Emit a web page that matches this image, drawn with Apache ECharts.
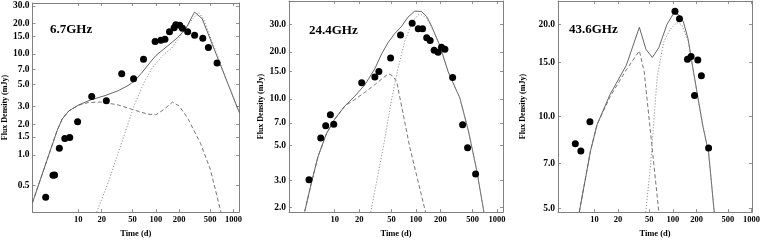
<!DOCTYPE html>
<html><head><meta charset="utf-8">
<script src="https://cdn.jsdelivr.net/npm/echarts@6/dist/echarts.min.js"></script>
<style>html,body{margin:0;padding:0;background:#fff}#c{width:763px;height:243px}</style>
</head><body><div id="c"></div>
<script>
// ---------- tick labels ----------
const xTickValues = [10, 20, 50, 100, 200, 500, 1000];
const yTicks67 = [0.5, 1.0, 1.5, 2.0, 3.0, 5.0, 7.0, 10.0, 15.0, 20.0, 30.0];
const yTicks244 = [2.0, 3.0, 5.0, 7.0, 10.0, 15.0, 20.0, 30.0];
const yTicks436 = [5.0, 7.0, 10.0, 15.0, 20.0];
const panelNames = ['6.7GHz', '24.4GHz', '43.6GHz'];

// ---------- 6.7 GHz ----------
const obs67Time = [3.8, 4.72, 4.94, 5.7, 6.7, 7.76, 9.8, 14.9, 23, 36.3, 51.6, 69.3, 97.8, 116, 131, 150, 172, 181, 203, 220, 257, 316, 403, 476, 615];
const obs67Flux = [0.38, 0.627, 0.63, 1.16, 1.45, 1.48, 2.13, 3.78, 3.43, 6.36, 5.69, 8.88, 13.3, 13.7, 14.0, 16.6, 18.2, 19.5, 19.2, 18.0, 16.6, 15.3, 14.3, 11.6, 8.13];
const total67Time = [2.57, 5.35, 6.2, 7.54, 10.1, 14.9, 22.1, 32.7, 43.8, 53.2, 64.7, 78.7, 100, 142, 190, 240, 315, 395, 1190];
const total67Flux = [0.336, 1.75, 2.26, 2.72, 3.12, 3.53, 3.86, 4.32, 4.86, 5.40, 6.40, 7.71, 9.64, 12.0, 14.5, 17.5, 26.0, 22.4, 2.62];
const comp1_67Time = [2.57, 5.35, 6.2, 7.54, 10.1, 13.5, 20, 32.7, 53.2, 78.7, 100, 128, 164, 199, 254, 376, 504, 690];
const comp1_67Flux = [0.336, 1.75, 2.26, 2.72, 3.1, 3.3, 3.33, 3.12, 2.77, 2.53, 2.49, 2.83, 3.33, 3.05, 2.35, 1.30, 0.716, 0.27];
const comp2_67Time = [17.3, 24.3, 36, 53.2, 71.4, 90, 128, 157, 200, 281, 358, 415, 1190];
const comp2_67Flux = [0.27, 0.53, 1.30, 3.16, 5.32, 7.3, 10.0, 11.2, 14.5, 21.0, 25.9, 21.8, 2.62];

// ---------- 24.4 GHz ----------
const obs244Time = [4.82, 6.72, 7.74, 8.84, 9.72, 21.5, 31.2, 35.0, 48.8, 64.7, 90, 107, 121, 136, 150, 168, 188, 207, 228, 284, 377, 434, 545];
const obs244Flux = [3.02, 5.6, 6.7, 7.9, 6.85, 12.7, 13.8, 15.0, 18.3, 25.7, 30.6, 28.2, 28.2, 24.7, 23.7, 20.5, 19.9, 21.4, 20.8, 13.7, 6.8, 4.85, 3.28];
const total244Time = [4.27, 5.15, 6.22, 7.89, 10, 13.3, 17.7, 23.5, 31, 38, 45.5, 55, 66, 80, 97, 117, 136, 156, 198, 250, 349, 443, 561, 690];
const total244Flux = [1.89, 2.88, 4.25, 5.96, 7.4, 8.98, 10.4, 12.3, 15.5, 19.5, 23.0, 26.3, 29.0, 33.5, 36.6, 36.4, 33.8, 29.3, 21.9, 14.9, 10.1, 6.25, 3.5, 1.87];
const comp1_244Time = [4.27, 5.15, 6.22, 7.89, 10, 13.3, 17.7, 23.5, 31, 40, 46, 52, 58, 84, 131.5];
const comp1_244Flux = [1.89, 2.88, 4.25, 5.96, 7.4, 8.98, 9.9, 11.0, 12.3, 13.7, 14.5, 14.0, 12.9, 4.9, 1.87];
const comp2_244Time = [27.8, 40, 50, 60, 73, 90, 107, 117, 136, 156, 198, 250, 349, 443, 561, 690];
const comp2_244Flux = [1.87, 5.0, 9.8, 15.5, 23.5, 31.0, 34.7, 34.7, 33.0, 29.0, 21.9, 14.9, 10.1, 6.25, 3.5, 1.87];

// ---------- 43.6 GHz ----------
const obs436Time = [5.7, 6.7, 8.75, 106, 121, 153, 170, 188, 207, 230, 284];
const obs436Flux = [8.13, 7.7, 9.6, 22.1, 20.9, 15.4, 15.7, 11.7, 15.3, 13.6, 7.87];
const total436Time = [6.4, 8.9, 10.8, 15.8, 25.4, 37.3, 45.2, 54.6, 66, 83.6, 101, 117, 135, 156, 180, 208, 240, 284, 310, 335];
const total436Flux = [4.85, 7.7, 9.4, 11.8, 14.7, 19.6, 16.6, 15.6, 16.8, 20.0, 21.7, 21.6, 20.5, 17.9, 14.3, 11.5, 9.3, 7.6, 6.0, 4.85];
const comp1_436Time = [6.4, 8.9, 10.8, 15.8, 25.4, 37.3, 43, 66];
const comp1_436Flux = [4.85, 7.7, 9.4, 11.6, 14.2, 16.4, 14.0, 4.85];
const comp2_436Time = [45, 52, 60, 63, 76, 92, 111, 129, 156, 180, 208, 240, 284, 310, 335];
const comp2_436Flux = [4.85, 7.0, 11.5, 13.5, 17.5, 19.3, 20.3, 20.0, 17.6, 14.2, 11.5, 9.3, 7.6, 6.0, 4.85];

// ---------- layout ----------
const FONT = "'Liberation Serif', 'Times New Roman', serif";
const panels = [
  {grid: {left: 30, top: 3, width: 209, height: 214}, x: [2.57, 1180], y: [0.27, 32], yTicks: yTicks67, nameGap: 20,
   label: {left: 45, top: 18},
   obs: [obs67Time, obs67Flux], total: [total67Time, total67Flux], c1: [comp1_67Time, comp1_67Flux], c2: [comp2_67Time, comp2_67Flux]},
  {grid: {left: 289, top: 1, width: 214, height: 216}, x: [2.73, 1186], y: [1.87, 42.5], yTicks: yTicks244, nameGap: 24,
   label: {left: 304, top: 19},
   obs: [obs244Time, obs244Flux], total: [total244Time, total244Flux], c1: [comp1_244Time, comp1_244Flux], c2: [comp2_244Time, comp2_244Flux]},
  {grid: {left: 558, top: 1, width: 199, height: 216}, x: [3.43, 1016], y: [4.85, 23.9], yTicks: yTicks436, nameGap: 31,
   label: {left: 564, top: 18},
   obs: [obs436Time, obs436Flux], total: [total436Time, total436Flux], c1: [comp1_436Time, comp1_436Flux], c2: [comp2_436Time, comp2_436Flux]}
];

const pairs = (a) => a[0].map((t, i) => [t, a[1][i]]);
const axisLineStyle = {lineStyle: {color: '#808080', width: 1}};
const tickStyle = (vals) => ({show: true, inside: true, length: 3, customValues: vals, lineStyle: {color: '#777', width: 0.8}});

const option = {
  animation: false,
  backgroundColor: '#fff',
  title: panels.map((p, i) => ({text: panelNames[i], left: p.label.left, top: p.label.top,
    textStyle: {fontFamily: FONT, fontWeight: 'bold', fontSize: 13, color: '#000'}})),
  grid: panels.map(p => Object.assign({containLabel: false}, p.grid)),
  xAxis: [],
  yAxis: [],
  series: []
};

panels.forEach((p, i) => {
  option.xAxis.push({
    type: 'log', logBase: 10, gridIndex: i, min: p.x[0], max: p.x[1], position: 'bottom',
    name: 'Time (d)', nameLocation: 'middle', nameGap: 10,
    nameTextStyle: {fontFamily: FONT, fontWeight: 'bold', fontSize: 8.5, color: '#000'},
    axisLine: axisLineStyle, axisTick: tickStyle(xTickValues), splitLine: {show: false}, minorTick: {show: false},
    axisLabel: {customValues: xTickValues, margin: 3, fontFamily: FONT, fontWeight: 'bold', fontSize: 8.5, color: '#000',
      formatter: v => String(Math.round(v))}
  });
  option.xAxis.push({
    type: 'log', logBase: 10, gridIndex: i, min: p.x[0], max: p.x[1], position: 'top',
    axisLine: axisLineStyle, axisTick: tickStyle(xTickValues), axisLabel: {show: false}, splitLine: {show: false}
  });
  option.yAxis.push({
    type: 'log', logBase: 10, gridIndex: i, min: p.y[0], max: p.y[1], position: 'left',
    name: 'Flux Density (mJy)', nameLocation: 'middle', nameGap: p.nameGap, nameRotate: 90,
    nameTextStyle: {fontFamily: FONT, fontWeight: 'bold', fontSize: 8, color: '#000'},
    axisLine: axisLineStyle, axisTick: tickStyle(p.yTicks), splitLine: {show: false},
    axisLabel: {customValues: p.yTicks, margin: 3, fontFamily: FONT, fontWeight: 'bold', fontSize: 9.5, color: '#000',
      formatter: v => Number(v).toFixed(1)}
  });
  option.yAxis.push({
    type: 'log', logBase: 10, gridIndex: i, min: p.y[0], max: p.y[1], position: 'right',
    axisLine: axisLineStyle, axisTick: tickStyle(p.yTicks), axisLabel: {show: false}, splitLine: {show: false}
  });
  const xi = i * 2, yi = i * 2;
  const lineBase = {type: 'line', xAxisIndex: xi, yAxisIndex: yi, showSymbol: false, symbol: 'none', clip: true, silent: true, z: 2};
  option.series.push(Object.assign({}, lineBase, {data: pairs(p.total), lineStyle: {color: '#555', width: 0.9, type: 'solid'}}));
  option.series.push(Object.assign({}, lineBase, {data: pairs(p.c1), lineStyle: {color: '#666', width: 0.9, type: [4, 2.5]}}));
  option.series.push(Object.assign({}, lineBase, {data: pairs(p.c2), lineStyle: {color: '#888', width: 0.9, type: [1.2, 1.8]}}));
  option.series.push({type: 'scatter', xAxisIndex: xi, yAxisIndex: yi, data: pairs(p.obs), symbol: 'circle', symbolSize: 7,
    itemStyle: {color: '#000', opacity: 1}, z: 3, clip: true});
});

const chart = echarts.init(document.getElementById('c'), null, {renderer: 'canvas'});
chart.setOption(option);
</script>
</body></html>
